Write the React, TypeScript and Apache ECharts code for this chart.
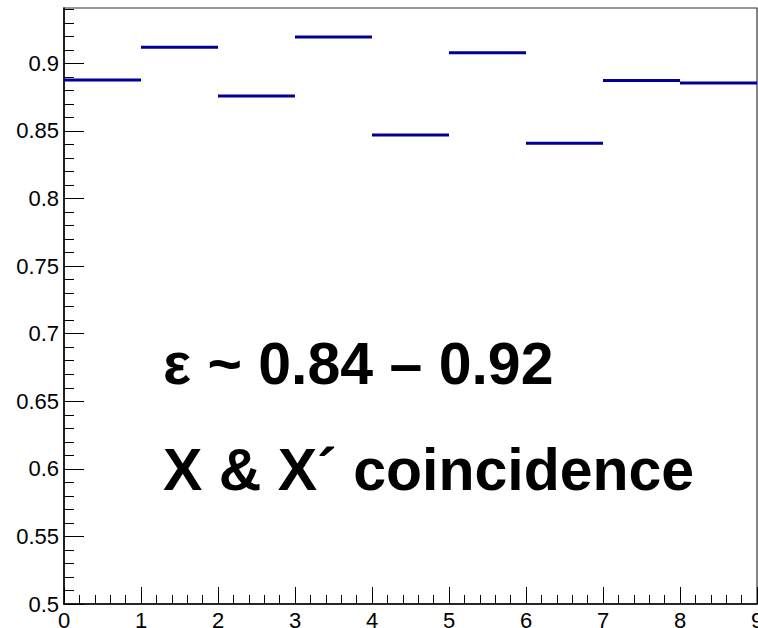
import React, { useEffect, useRef } from "react";
import * as echarts from "echarts";

// Histogram bins (x) and efficiency per bin (y)
const binEdges = [0, 1, 2, 3, 4, 5, 6, 7, 8, 9];
const efficiencies = [0.8877, 0.9119, 0.8758, 0.9195, 0.847, 0.9079, 0.841, 0.8874, 0.8855];
const xTickLabels = ["0", "1", "2", "3", "4", "5", "6", "7", "8", "9"];
const yTickLabels = ["0.5", "0.55", "0.6", "0.65", "0.7", "0.75", "0.8", "0.85", "0.9"];
const annotationLines = ["ε ~ 0.84 – 0.92", "X & X´ coincidence"];

const X_MIN = 0;
const X_MAX = 9;
const Y_MIN = 0.5;
const Y_MAX = 0.941;

const FONT = '"Liberation Sans", Arial, Helvetica, sans-serif';

function steps(from: number, to: number, step: number): number[] {
  const out: number[] = [];
  const n = Math.round((to - from) / step);
  for (let i = 0; i <= n; i++) out.push(Number((from + i * step).toFixed(6)));
  return out;
}

export default function App() {
  const ref = useRef<HTMLDivElement>(null);

  useEffect(() => {
    if (!ref.current) return;
    const chart = echarts.init(ref.current, null, { renderer: "svg" });

    const xMajor = xTickLabels.map(Number);
    const yMajor = yTickLabels.map(Number);
    const xMinor = steps(X_MIN, X_MAX, 0.2);
    const yMinor = steps(Y_MIN, 0.94, 0.01);

    const labelFor = (labels: string[]) => (v: number) => {
      const s = labels.find((l) => Math.abs(Number(l) - v) < 1e-9);
      return s ?? "";
    };

    const data = efficiencies.map((v, i) => [binEdges[i], binEdges[i + 1], v]);

    const axisBase = {
      type: "value" as const,
      splitLine: { show: false },
    };

    chart.setOption({
      animation: false,
      backgroundColor: "#ffffff",
      grid: {
        left: 64,
        right: 1,
        top: 8,
        bottom: 24,
        show: true,
        borderColor: "#333333",
        borderWidth: 1.2,
        backgroundColor: "transparent",
        containLabel: false,
        outerBoundsMode: "none",
      },
      xAxis: [
        {
          ...axisBase,
          min: X_MIN,
          max: X_MAX,
          position: "bottom",
          axisLine: { show: true, onZero: false, lineStyle: { color: "#000", width: 1.5 } },
          axisTick: {
            show: true,
            inside: true,
            length: 17,
            customValues: xMajor,
            lineStyle: { color: "#000", width: 1 },
          },
          axisLabel: {
            show: true,
            customValues: xMajor,
            formatter: labelFor(xTickLabels),
            fontSize: 22,
            fontFamily: FONT,
            color: "#000",
            margin: 5,
            hideOverlap: false,
          },
        },
        {
          ...axisBase,
          min: X_MIN,
          max: X_MAX,
          position: "bottom",
          axisLine: { show: false, onZero: false },
          axisTick: {
            show: true,
            inside: true,
            length: 9,
            customValues: xMinor,
            lineStyle: { color: "#000", width: 1 },
          },
          axisLabel: { show: false },
        },
      ],
      yAxis: [
        {
          ...axisBase,
          min: Y_MIN,
          max: Y_MAX,
          position: "left",
          axisLine: { show: true, onZero: false, lineStyle: { color: "#000", width: 1.5 } },
          axisTick: {
            show: true,
            inside: true,
            length: 20,
            customValues: yMajor,
            lineStyle: { color: "#000", width: 1 },
          },
          axisLabel: {
            show: true,
            customValues: yMajor,
            formatter: labelFor(yTickLabels),
            fontSize: 22,
            fontFamily: FONT,
            color: "#000",
            margin: 5,
            hideOverlap: false,
          },
        },
        {
          ...axisBase,
          min: Y_MIN,
          max: Y_MAX,
          position: "left",
          axisLine: { show: false, onZero: false },
          axisTick: {
            show: true,
            inside: true,
            length: 10,
            customValues: yMinor,
            lineStyle: { color: "#000", width: 1 },
          },
          axisLabel: { show: false },
        },
      ],
      series: [
        {
          type: "custom",
          xAxisIndex: 0,
          yAxisIndex: 0,
          data,
          encode: { x: [0, 1], y: 2 },
          renderItem: (_params: any, api: any) => {
            const x0 = api.value(0);
            const x1 = api.value(1);
            const v = api.value(2);
            const p0 = api.coord([x0, v]);
            const p1 = api.coord([x1, v]);
            return {
              type: "line",
              shape: { x1: p0[0], y1: p0[1], x2: p1[0], y2: p1[1] },
              style: { stroke: "#000099", lineWidth: 3 },
            };
          },
        },
      ],
      graphic: annotationLines.map((t, i) => ({
        type: "text",
        x: 163,
        y: i === 0 ? 364 : 470,
        style: {
          text: t,
          font: `bold 59px ${FONT}`,
          fill: "#000",
          verticalAlign: "middle",
          align: "left",
        },
      })),
    });

    return () => chart.dispose();
  }, []);

  return (
    <div
      ref={ref}
      style={{ position: "fixed", left: 0, top: 0, width: 758, height: 628, background: "#fff" }}
    />
  );
}
